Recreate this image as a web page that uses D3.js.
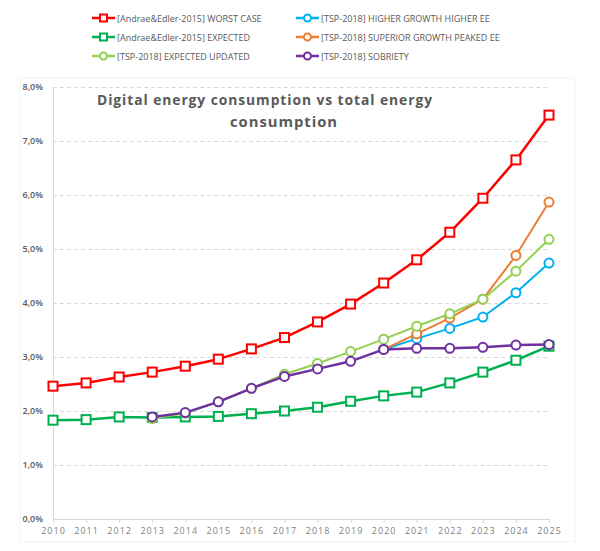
<!DOCTYPE html>
<html><head><meta charset="utf-8">
<script src="https://cdn.jsdelivr.net/npm/d3@7"></script>
<style>
html,body{margin:0;padding:0;background:#fff;}
svg{display:block;font-family:"Open Sans",sans-serif;}
</style></head>
<body>
<svg id="c" width="600" height="551"></svg>
<script>
const years = [2010,2011,2012,2013,2014,2015,2016,2017,2018,2019,2020,2021,2022,2023,2024,2025];
const yTicks = [0,0.01,0.02,0.03,0.04,0.05,0.06,0.07,0.08];
const titleLines = ["Digital energy consumption vs total energy","consumption"];

const worstCase   = [2.46,2.52,2.63,2.72,2.83,2.96,3.15,3.36,3.65,3.98,4.37,4.80,5.31,5.94,6.65,7.48];
const expected    = [1.83,1.84,1.89,1.88,1.89,1.90,1.95,2.00,2.07,2.18,2.28,2.35,2.52,2.72,2.94,3.20];
const higherGrowth= [null,null,null,null,null,null,null,null,null,null,3.14,3.34,3.53,3.74,4.19,4.74];
const superiorGrowth=[null,null,null,null,null,null,null,null,null,null,3.14,3.43,3.72,4.07,4.88,5.87];
const expUpdated  = [null,null,null,1.86,1.96,2.17,2.42,2.68,2.88,3.10,3.33,3.57,3.80,4.07,4.59,5.18];
const sobriety    = [null,null,null,1.89,1.97,2.17,2.42,2.64,2.78,2.92,3.14,3.16,3.16,3.18,3.22,3.23];

const seriesNames = ["[Andrae&Edler-2015] WORST CASE","[Andrae&Edler-2015] EXPECTED","[TSP-2018] EXPECTED UPDATED",
  "[TSP-2018] HIGHER GROWTH HIGHER EE","[TSP-2018] SUPERIOR GROWTH PEAKED EE","[TSP-2018] SOBRIETY"];
const seriesValues = [worstCase, expected, expUpdated, higherGrowth, superiorGrowth, sobriety];
const seriesColors = ["#ff0000","#00b050","#92d050","#00b0f0","#ed7d31","#7030a0"];
const seriesMarkers = ["square","square","circle","circle","circle","circle"];
const seriesWidths = [2.5,2.5,2,2,2,2.5];
const drawOrder = [0,1,3,4,2,5];

const svg = d3.select("#c");
const x = d3.scaleLinear().domain([2010,2025]).range([53,549]);
const y = d3.scaleLinear().domain([0,0.08]).range([519,87]);
const loc = d3.formatLocale({decimal:",",thousands:".",grouping:[3],currency:["","€"]});
const fmt = loc.format(".1%");

// faint plot border
svg.append("rect").attr("x",20).attr("y",78).attr("width",555).attr("height",464)
  .attr("fill","none").attr("stroke","#f3f3f3").attr("stroke-width",1);

// gridlines
svg.append("g").selectAll("line").data(yTicks.filter(d=>d>0)).join("line")
  .attr("x1",x(2010)).attr("x2",x(2025)).attr("y1",d=>y(d)+0.5).attr("y2",d=>y(d)+0.5)
  .attr("stroke","#d9d9d9").attr("stroke-width",1).attr("stroke-dasharray","4,3");

// y axis
const yAxis = d3.axisLeft(y).tickValues(yTicks).tickFormat(fmt).tickSize(0).tickPadding(10);
const gy = svg.append("g").attr("transform",`translate(${x(2010)},0)`).call(yAxis);
gy.select(".domain").attr("stroke","#d9d9d9");
gy.selectAll("text").attr("fill","#595959").attr("font-size","9px").attr("font-weight","600").attr("font-family","Open Sans, sans-serif");

// x axis
const xAxis = d3.axisBottom(x).tickValues(years).tickFormat(d=>String(d)).tickSize(4).tickPadding(5);
const gx = svg.append("g").attr("transform",`translate(0,${y(0)})`).call(xAxis);
gx.select(".domain").attr("stroke","#d9d9d9");
gx.selectAll(".tick line").attr("stroke","#d9d9d9");
gx.selectAll("text").attr("fill","#7f7f7f").attr("font-size","9px").attr("letter-spacing","1px").attr("font-family","Open Sans, sans-serif");

// title
const tl = svg.append("g");
tl.append("text").attr("x",97).attr("y",105).attr("textLength",336).attr("lengthAdjust","spacingAndGlyphs")
  .attr("font-size","15px").attr("font-weight","bold").attr("fill","#595959").attr("letter-spacing","1px").text(titleLines[0]);
tl.append("text").attr("x",230).attr("y",127).attr("textLength",108).attr("lengthAdjust","spacingAndGlyphs")
  .attr("font-size","15px").attr("font-weight","bold").attr("fill","#595959").attr("letter-spacing","1px").text(titleLines[1]);

function drawMarker(g, type, cx, cy, color){
  if(type==="square"){
    g.append("rect").attr("x",cx-4.5).attr("y",cy-4.5).attr("width",9).attr("height",9)
      .attr("fill","#fff").attr("stroke",color).attr("stroke-width",2);
  } else {
    g.append("circle").attr("cx",cx).attr("cy",cy).attr("r",4.5)
      .attr("fill","#fff").attr("stroke",color).attr("stroke-width",2);
  }
}

const line = d3.line().defined(d=>d.v!=null).x(d=>x(d.yr)).y(d=>y(d.v/100));
drawOrder.forEach(i=>{
  const data = years.map((yr,k)=>({yr, v:seriesValues[i][k]}));
  const g = svg.append("g");
  g.append("path").datum(data).attr("d",line).attr("fill","none")
    .attr("stroke",seriesColors[i]).attr("stroke-width",seriesWidths[i]).attr("stroke-linejoin","round");
  data.filter(d=>d.v!=null).forEach(d=>drawMarker(g, seriesMarkers[i], x(d.yr), y(d.v/100), seriesColors[i]));
});

// legend
const legPos = [[92,18],[92,37],[92,56],[296,18],[296,37],[296,56]];
seriesNames.forEach((name,i)=>{
  const [lx,ly] = legPos[i];
  const g = svg.append("g");
  g.append("line").attr("x1",lx).attr("x2",lx+23).attr("y1",ly).attr("y2",ly)
    .attr("stroke",seriesColors[i]).attr("stroke-width",2.5);
  if(seriesMarkers[i]==="square"){
    g.append("rect").attr("x",lx+8).attr("y",ly-3.5).attr("width",7).attr("height",7)
      .attr("fill","#fff").attr("stroke",seriesColors[i]).attr("stroke-width",2);
  } else {
    g.append("circle").attr("cx",lx+11.5).attr("cy",ly).attr("r",3.5)
      .attr("fill","#fff").attr("stroke",seriesColors[i]).attr("stroke-width",2);
  }
  g.append("text").attr("x",lx+25).attr("y",ly+3.5).attr("font-size","9px").attr("fill","#595959").text(name);
});
</script>
</body></html>
